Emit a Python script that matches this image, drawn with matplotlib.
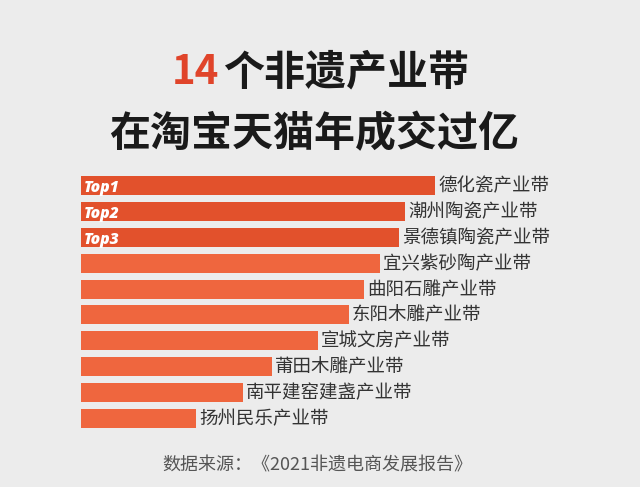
import matplotlib
matplotlib.use("Agg")
import matplotlib.pyplot as plt

plt.rcParams['font.family'] = ['Noto Sans CJK SC', 'DejaVu Sans']

# Data (relative bar lengths)
categories = ["德化瓷产业带", "潮州陶瓷产业带", "景德镇陶瓷产业带", "宜兴紫砂陶产业带",
              "曲阳石雕产业带", "东阳木雕产业带", "宣城文房产业带", "莆田木雕产业带",
              "南平建窑建盏产业带", "扬州民乐产业带"]
values = [354, 324, 318, 299, 283, 268, 237, 191, 162, 115]
rank_labels = ["Top1", "Top2", "Top3"]

W, H = 640, 487
fig = plt.figure(figsize=(W / 100, H / 100), dpi=100)
bg = "#ececec"
fig.patch.set_facecolor(bg)

# Bar axes: 1 data unit = 1 pixel horizontally
left_px, width_px = 81, 520
top_px, bot_px = 173, 431
ax = fig.add_axes([left_px / W, 1 - bot_px / H, width_px / W, (bot_px - top_px) / H])
ax.set_facecolor("none")
ax.set_xlim(0, width_px)
n = len(categories)
ax.set_ylim(n - 0.5, -0.5)
ax.axis("off")

dark = "#e2512c"
light = "#ef663e"
colors = [dark if i < len(rank_labels) else light for i in range(n)]
ypos = list(range(n))
ax.barh(ypos, values, height=0.74, color=colors, linewidth=0)

for i, (cat, v) in enumerate(zip(categories, values)):
    ax.text(v + 3, i + 0.03, cat, va="center", ha="left", fontsize=13.3, color="#333333")
for i, lab in enumerate(rank_labels):
    ax.text(3, i + 0.08, lab, va="center", ha="left", fontsize=11.3, color="white",
            fontweight="heavy", fontstyle="italic", family=["Open Sans", "DejaVu Sans"])

# Title
fig.text(219 / W, 1 - 72 / H, "14", ha="right", va="center", fontsize=29,
         color="#e0442a", fontweight="black")
fig.text(223 / W, 1 - 72 / H, "个非遗产业带", ha="left", va="center", fontsize=29.5,
         color="#1a1a1a", fontweight="bold")
fig.text(314 / W, 1 - 134 / H, "在淘宝天猫年成交过亿", ha="center", va="center", fontsize=29.5,
         color="#1a1a1a", fontweight="bold")

# Footer
fig.text(317 / W, 1 - 465 / H, "数据来源：《2021非遗电商发展报告》", ha="center", va="center",
         fontsize=13, color="#555555")

fig.savefig("out.png", dpi=100, facecolor=bg)
